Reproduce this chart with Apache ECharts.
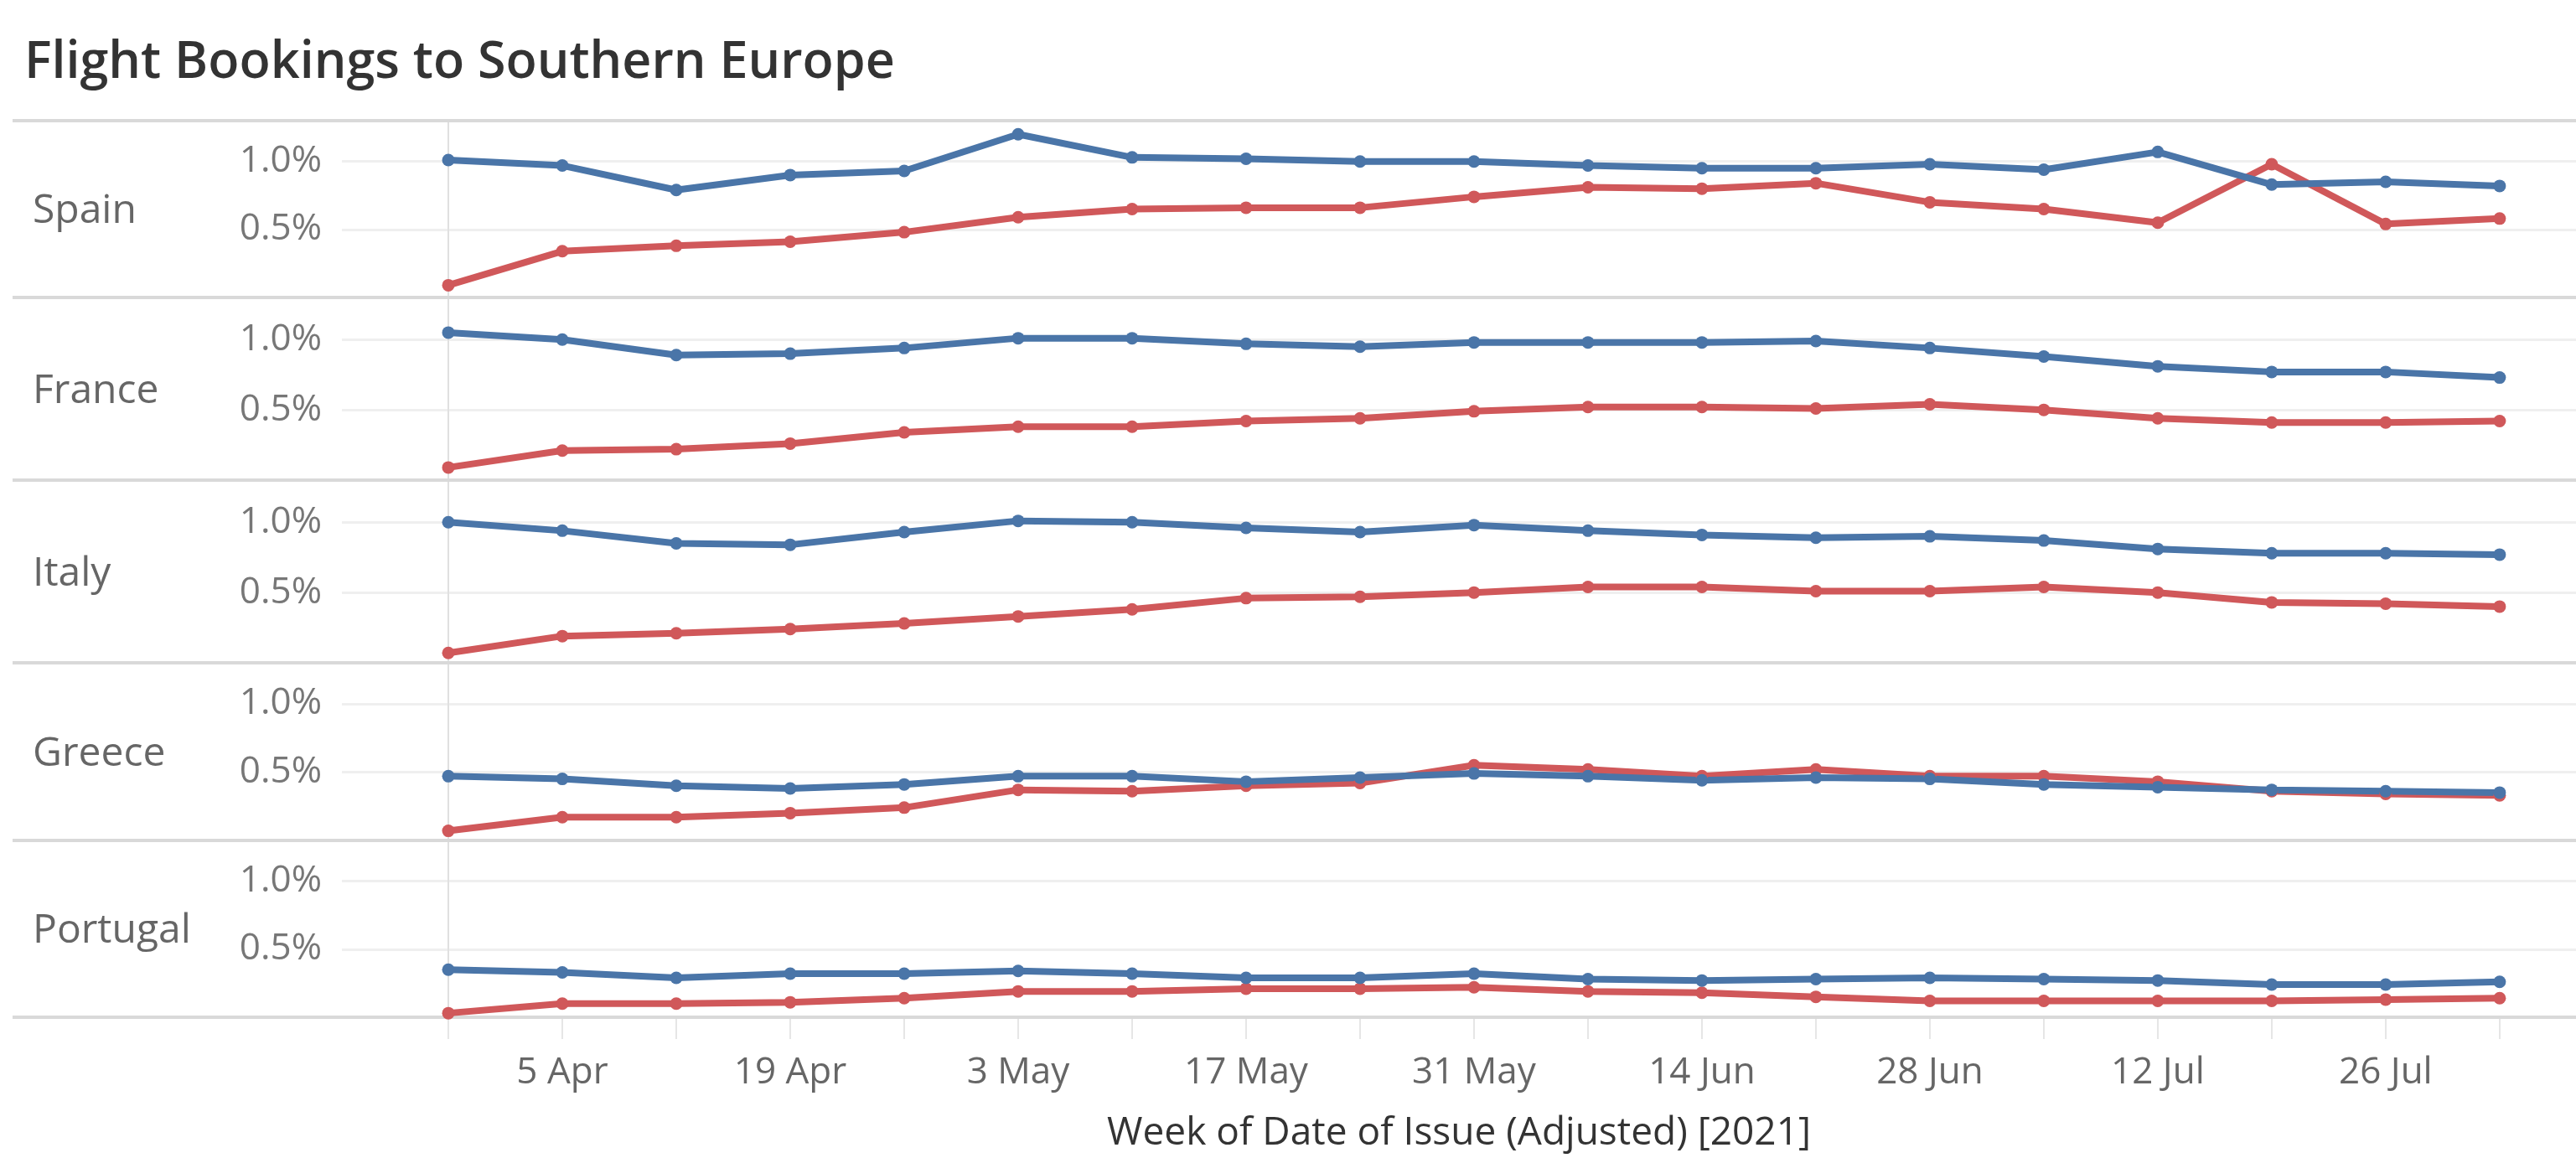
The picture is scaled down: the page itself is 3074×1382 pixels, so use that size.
<!DOCTYPE html>
<html><head><meta charset="utf-8">
<script src="https://cdn.jsdelivr.net/npm/echarts@6/dist/echarts.min.js"></script>
<style>html,body{margin:0;padding:0;background:#fff}#chart{width:3074px;height:1382px}</style>
</head><body><div id="chart"></div>
<script>
// ---- data ----
const weeks = ['29 Mar','5 Apr','12 Apr','19 Apr','26 Apr','3 May','10 May','17 May','24 May','31 May','7 Jun','14 Jun','21 Jun','28 Jun','5 Jul','12 Jul','19 Jul','26 Jul','2 Aug'];
const countries = ['Spain','France','Italy','Greece','Portugal'];
const spainBlue    = [1.01,0.97,0.79,0.90,0.93,1.20,1.03,1.02,1.00,1.00,0.97,0.95,0.95,0.98,0.94,1.07,0.83,0.85,0.82];
const spainRed     = [0.09,0.34,0.38,0.41,0.48,0.59,0.65,0.66,0.66,0.74,0.81,0.80,0.84,0.70,0.65,0.55,0.98,0.54,0.58];
const franceBlue   = [1.05,1.00,0.89,0.90,0.94,1.01,1.01,0.97,0.95,0.98,0.98,0.98,0.99,0.94,0.88,0.81,0.77,0.77,0.73];
const franceRed    = [0.09,0.21,0.22,0.26,0.34,0.38,0.38,0.42,0.44,0.49,0.52,0.52,0.51,0.54,0.50,0.44,0.41,0.41,0.42];
const italyBlue    = [1.00,0.94,0.85,0.84,0.93,1.01,1.00,0.96,0.93,0.98,0.94,0.91,0.89,0.90,0.87,0.81,0.78,0.78,0.77];
const italyRed     = [0.07,0.19,0.21,0.24,0.28,0.33,0.38,0.46,0.47,0.50,0.54,0.54,0.51,0.51,0.54,0.50,0.43,0.42,0.40];
const greeceBlue   = [0.47,0.45,0.40,0.38,0.41,0.47,0.47,0.43,0.46,0.49,0.47,0.44,0.46,0.45,0.41,0.39,0.37,0.36,0.35];
const greeceRed    = [0.07,0.17,0.17,0.20,0.24,0.37,0.36,0.40,0.42,0.55,0.52,0.47,0.52,0.47,0.47,0.43,0.36,0.34,0.33];
const portugalBlue = [0.35,0.33,0.29,0.32,0.32,0.34,0.32,0.29,0.29,0.32,0.28,0.27,0.28,0.29,0.28,0.27,0.24,0.24,0.26];
const portugalRed  = [0.03,0.10,0.10,0.11,0.14,0.19,0.19,0.21,0.21,0.22,0.19,0.18,0.15,0.12,0.12,0.12,0.12,0.13,0.14];
const yTickLabels = [0.5, 1.0];
const titleText = 'Flight Bookings to Southern Europe';
const xAxisTitle = 'Week of Date of Issue (Adjusted) [2021]';

const blueSets = [spainBlue, franceBlue, italyBlue, greeceBlue, portugalBlue];
const redSets  = [spainRed, franceRed, italyRed, greeceRed, portugalRed];

// ---- layout / style ----
const W = 3074;
const bounds = [144, 355, 573, 791, 1003, 1214];
const plotLeft = 408;
const xMin = -0.934, xMax = 18.67;
const FONT = '"Open Sans", "Noto Sans", sans-serif';
const BLUE = '#4a75a8', RED = '#d0585a';

const grids = [], xAxes = [], yAxes = [], series = [], graphics = [];
countries.forEach((c, i) => {
  const top = bounds[i], h = bounds[i + 1] - bounds[i];
  const last = i === countries.length - 1;
  grids.push({ left: plotLeft, right: 0, top: top, height: h });
  xAxes.push({
    type: 'value', gridIndex: i, min: xMin, max: xMax,
    splitLine: { show: false }, axisLine: { show: false },
    axisTick: last ? { show: true, customValues: weeks.map((_, k) => k), length: 26, lineStyle: { color: '#e6e6e6', width: 2 } } : { show: false },
    axisLabel: last ? { show: true, customValues: weeks.map((_, k) => k).filter(k => k % 2 === 1),
      formatter: v => weeks[Math.round(v)], fontSize: 44, color: '#666', margin: 44, fontFamily: FONT } : { show: false },
    name: last ? xAxisTitle : '', nameLocation: 'middle', nameGap: 116,
    nameTextStyle: { fontSize: 46, color: '#333', fontFamily: FONT }
  });
  yAxes.push({
    type: 'value', gridIndex: i, min: 0, max: 1.3, interval: 0.5,
    axisLine: { show: true, lineStyle: { color: '#e0e0e0', width: 2 } },
    axisTick: { show: false },
    axisLabel: { formatter: v => yTickLabels.some(t => Math.abs(t - v) < 1e-6) ? v.toFixed(1) + '%' : '',
      fontSize: 44, color: '#777', margin: 24, fontFamily: FONT },
    splitLine: { show: true, lineStyle: { color: '#efefef', width: 3 } }
  });
  const common = { type: 'line', xAxisIndex: i, yAxisIndex: i, symbol: 'circle', symbolSize: 15,
    silent: true, animation: false };
  series.push(Object.assign({}, common, { name: 'Red', color: RED, itemStyle: { color: RED },
    lineStyle: { width: 8, color: RED }, data: redSets[i].map((v, k) => [k, v]) }));
  series.push(Object.assign({}, common, { name: 'Blue', color: BLUE, itemStyle: { color: BLUE },
    lineStyle: { width: 8, color: BLUE }, data: blueSets[i].map((v, k) => [k, v]) }));
  graphics.push({ type: 'text', x: 39, y: (top + bounds[i + 1]) / 2 + 3,
    style: { text: c, fontSize: 48, fontFamily: FONT, fill: '#666', verticalAlign: 'middle' } });
});
bounds.forEach(b => {
  graphics.push({ type: 'line', shape: { x1: 15, y1: b, x2: W, y2: b },
    style: { stroke: '#d9d9d9', lineWidth: 4 }, z: 1 });
});

const chart = echarts.init(document.getElementById('chart'), null, { renderer: 'canvas' });
chart.setOption({
  backgroundColor: '#fff',
  animation: false,
  title: { text: titleText, left: 29, top: 40, padding: 0,
    textStyle: { fontSize: 61, lineHeight: 72, color: '#333', fontWeight: 600, fontFamily: FONT } },
  grid: grids, xAxis: xAxes, yAxis: yAxes, series: series,
  graphic: graphics
});
</script></body></html>
